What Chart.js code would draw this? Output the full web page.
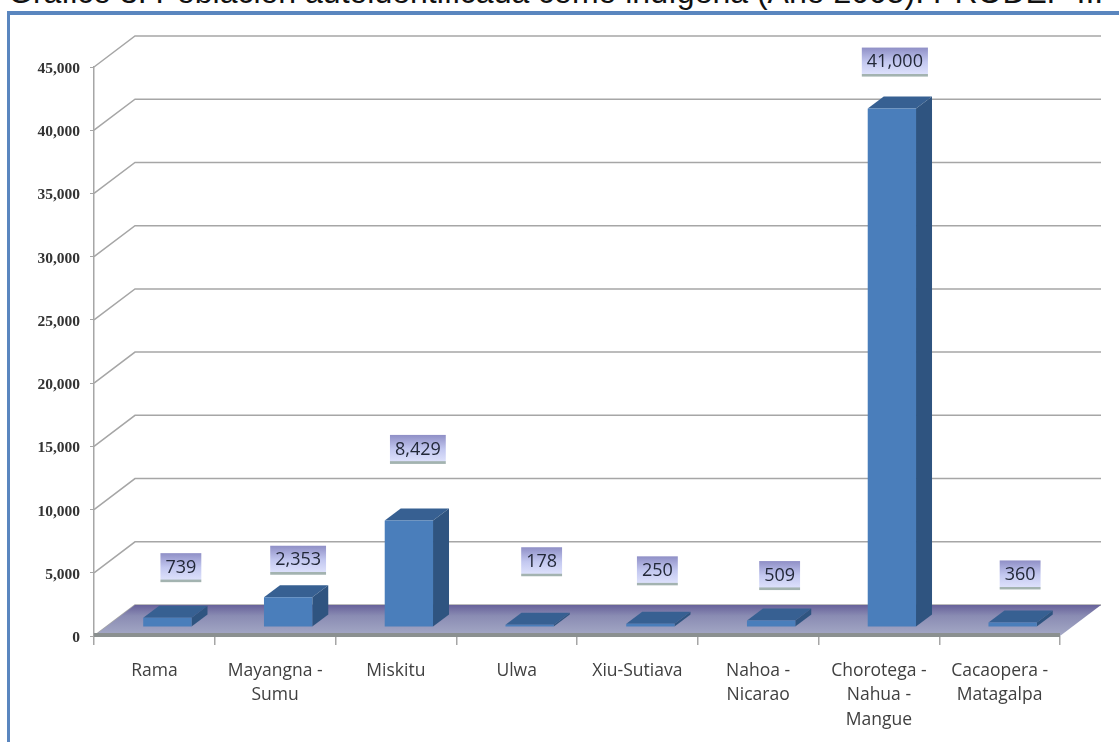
<!DOCTYPE html>
<html>
<head>
<meta charset="utf-8">
<title>Población autoidentificada como indígena</title>
<script src="https://cdn.jsdelivr.net/npm/chart.js@4"></script>
<style>
    html, body { margin: 0; padding: 0; background: #fff; overflow: hidden; }
    #page { position: relative; width: 1119px; height: 742px; overflow: hidden; }
    #heading {
        position: absolute; left: 8px; top: -26px; white-space: nowrap;
        font: 32px "Liberation Sans", Arial, sans-serif; color: #111;
    }
    #frame {
        position: absolute; left: 7px; top: 11px; width: 1120px; height: 740px;
        border-style: solid; border-color: #5a86bf; border-width: 4px 3px 3px 3px;
        box-sizing: border-box; background: #fff;
    }
    #chart { position: absolute; left: 0; top: 0; }
</style>
</head>
<body>
<div id="page">
    <div id="heading">Gráfico 3: Población autoidentificada como indígena (Año 2005). PRODEP II.</div>
    <div id="frame"></div>
    <canvas id="chart" width="1119" height="742"></canvas>
</div>
<script>
const categories = [
    'Rama',
    ['Mayangna -', 'Sumu'],
    'Miskitu',
    'Ulwa',
    'Xiu-Sutiava',
    ['Nahoa -', 'Nicarao'],
    ['Chorotega -', 'Nahua -', 'Mangue'],
    ['Cacaopera -', 'Matagalpa']
];
const population = [739, 2353, 8429, 178, 250, 509, 41000, 360];
const yTickValues = [0, 5000, 10000, 15000, 20000, 25000, 30000, 35000, 40000, 45000];

// the labels were placed by hand in the original, so each one has its own nudge
const labelNudgeX = [13.5, 10, 9, 12, 7, 8.5, 3, 7.5];
const labelNudgeY = [-50, -37, -71, -63, -53, -45, -46.5, -47.5];

// fake 3d: wall sits behind the axes, bars stand part way across the floor
const wallDepth = { x: 41, y: -31 };
const barShift = { x: 13, y: -9 };
const barDepth = { x: 16, y: -12 };

function fmt(value) {
    return Number(value).toLocaleString('en-US');
}

function polygon(ctx, points, fill) {
    ctx.beginPath();
    points.forEach((p, i) => i ? ctx.lineTo(p[0], p[1]) : ctx.moveTo(p[0], p[1]));
    ctx.closePath();
    ctx.fillStyle = fill;
    ctx.fill();
}

const fakeDepth = {
    id: 'fakeDepth',
    beforeDatasetsDraw(chart) {
        const { ctx, chartArea: area, scales: { y } } = chart;

        // back wall lines
        ctx.save();
        ctx.strokeStyle = '#a6a6a6';
        ctx.lineWidth = 1.5;
        y.ticks.forEach(tick => {
            const py = y.getPixelForValue(tick.value);
            ctx.beginPath();
            ctx.moveTo(area.left, py);
            ctx.lineTo(area.left + wallDepth.x, py + wallDepth.y);
            ctx.lineTo(area.right + wallDepth.x, py + wallDepth.y);
            ctx.stroke();
        });

        // floor
        const base = y.getPixelForValue(0);
        const floor = ctx.createLinearGradient(0, base + wallDepth.y, 0, base);
        floor.addColorStop(0, '#67619a');
        floor.addColorStop(0.35, '#8a8cb3');
        floor.addColorStop(1, '#a5a9c6');
        polygon(ctx, [
            [area.left, base],
            [area.left + wallDepth.x, base + wallDepth.y],
            [area.right + wallDepth.x, base + wallDepth.y],
            [area.right, base]
        ], floor);
        ctx.fillStyle = '#8b9090';
        ctx.fillRect(area.left, base - 3, area.right - area.left, 4);
        ctx.restore();

        // bars are drawn moved back onto the floor, restored in afterDatasetsDraw
        ctx.save();
        ctx.translate(barShift.x, barShift.y);
        chart.getDatasetMeta(0).data.forEach(bar => {
            const l = bar.x - bar.width / 2;
            const r = bar.x + bar.width / 2;
            const d = barDepth;
            polygon(ctx, [[l, bar.y], [l + d.x, bar.y + d.y], [r + d.x, bar.y + d.y], [r, bar.y]], '#376092');
            polygon(ctx, [[r, bar.y], [r + d.x, bar.y + d.y], [r + d.x, bar.base + d.y], [r, bar.base]], '#2f5480');
        });
    },
    afterDatasetsDraw(chart) {
        const { ctx } = chart;
        ctx.restore();

        // value boxes
        ctx.save();
        ctx.font = '18px "Open Sans", sans-serif';
        ctx.textAlign = 'center';
        ctx.textBaseline = 'middle';
        chart.getDatasetMeta(0).data.forEach((bar, i) => {
            const text = fmt(population[i]);
            const cx = bar.x + barShift.x + labelNudgeX[i];
            const cy = bar.y + barShift.y + labelNudgeY[i];
            const w = ctx.measureText(text).width + 10;
            const h = 29;
            const grad = ctx.createLinearGradient(0, cy - h / 2, 0, cy + h / 2);
            grad.addColorStop(0, '#8f8fc6');
            grad.addColorStop(0.5, '#c3c8f0');
            grad.addColorStop(0.9, '#dce0fb');
            grad.addColorStop(0.92, '#a3b3b0');
            grad.addColorStop(1, '#a3b3b0');
            ctx.fillStyle = grad;
            ctx.fillRect(cx - w / 2, cy - h / 2, w, h);
            ctx.fillStyle = '#222838';
            ctx.fillText(text, cx, cy);
        });
        ctx.restore();
    }
};

new Chart(document.getElementById('chart'), {
    type: 'bar',
    data: {
        labels: categories,
        datasets: [{
            data: population,
            backgroundColor: '#4a7ebb',
            barPercentage: 0.4,
            categoryPercentage: 1,
            clip: false
        }]
    },
    plugins: [fakeDepth],
    options: {
        responsive: false,
        animation: false,
        layout: { padding: { left: 0, top: 67, right: 59, bottom: 0 } },
        plugins: {
            legend: { display: false },
            title: { display: false },
            tooltip: { enabled: false }
        },
        scales: {
            x: {
                afterFit(scale) { scale.height = 106; },
                border: { display: false },
                grid: { drawOnChartArea: false, color: '#a6a6a6', lineWidth: 1.5, tickLength: 9 },
                ticks: {
                    autoSkip: false,
                    maxRotation: 0,
                    padding: 13.5,
                    color: '#404040',
                    font: { family: '"Open Sans", sans-serif', size: 17.5, lineHeight: 1.4 }
                }
            },
            y: {
                min: 0,
                max: 45000,
                afterBuildTicks(scale) { scale.ticks = yTickValues.map(value => ({ value })); },
                afterFit(scale) { scale.width = 94; },
                border: { color: '#a6a6a6', width: 1.5 },
                grid: { drawOnChartArea: false, color: '#a6a6a6', tickLength: 4 },
                ticks: {
                    padding: 10,
                    labelOffset: 2,
                    color: '#333333',
                    callback: value => fmt(value),
                    font: { family: '"Liberation Serif", serif', size: 15.5, weight: 'bold' }
                }
            }
        }
    }
});
</script>
</body>
</html>
